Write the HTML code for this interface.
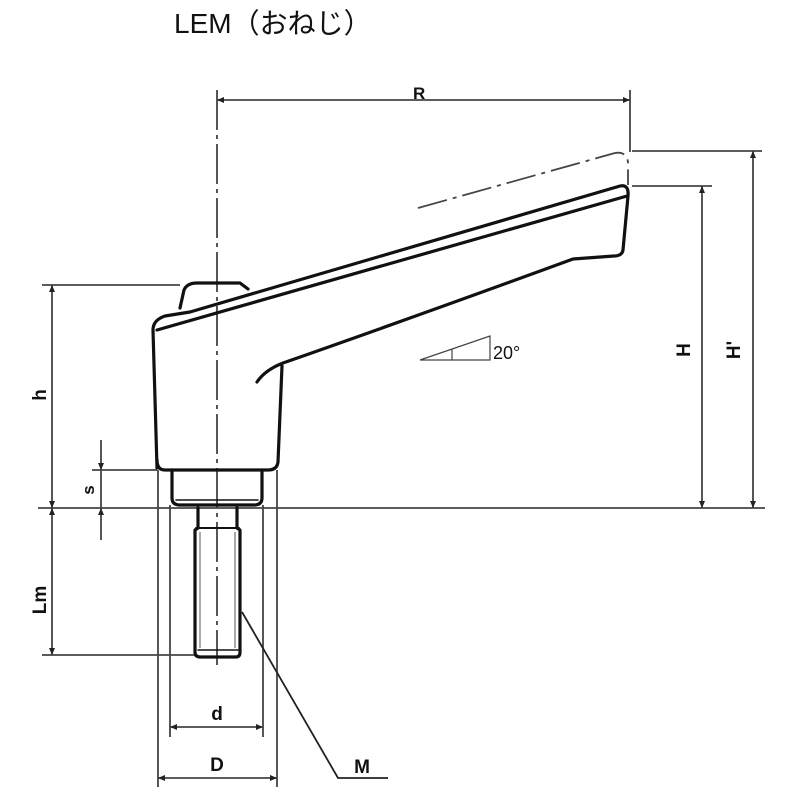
<!DOCTYPE html>
<html><head><meta charset="utf-8"><style>
html,body{margin:0;padding:0;background:#fff;width:800px;height:800px;overflow:hidden}
svg{display:block}
text{font-family:"Liberation Sans","Noto Sans CJK JP",sans-serif;font-weight:bold;fill:#111}
</style></head><body>
<svg width="800" height="800" viewBox="0 0 800 800" xmlns="http://www.w3.org/2000/svg">
<text x="174" y="33" font-size="28" style="font-weight:normal">LEM（おねじ）</text>
<g stroke="#444" stroke-width="1.8" fill="none">
<line x1="217" y1="90" x2="217" y2="665" stroke-dasharray="40,5,4,5"/>
<line x1="217" y1="100" x2="630" y2="100"/>
<line x1="630" y1="90" x2="630" y2="152"/>
<line x1="632" y1="151" x2="762" y2="151"/>
<line x1="632" y1="186" x2="712" y2="186"/>
<line x1="38" y1="508" x2="765" y2="508"/>
<line x1="702" y1="186" x2="702" y2="508"/>
<line x1="753" y1="151" x2="753" y2="508"/>
<line x1="42" y1="285" x2="180" y2="285"/>
<line x1="52" y1="285" x2="52" y2="655"/>
<line x1="42" y1="655" x2="195" y2="655"/>
<line x1="101" y1="440" x2="101" y2="540"/>
<line x1="92" y1="470" x2="157" y2="470"/>
<line x1="158" y1="470" x2="158" y2="787"/>
<line x1="277" y1="470" x2="277" y2="787"/>
<line x1="170" y1="505" x2="170" y2="737"/>
<line x1="263" y1="505" x2="263" y2="737"/>
<line x1="170" y1="727" x2="263" y2="727"/>
<line x1="158" y1="778" x2="277" y2="778"/>
<path d="M418,208 L615,153 Q626,151 628,162 L628,185" stroke-dasharray="30,6,4,6"/>
<polyline points="420,360 490,336 490,360 420,360" stroke-width="1.2"/>
<line x1="452" y1="349" x2="452" y2="360" stroke-width="1.2"/>
</g>
<g fill="#222">
<polygon points="217,100 224,97 224,103"/><polygon points="630,100 623,97 623,103"/>
<polygon points="702,186 699,193 705,193"/><polygon points="702,508 699,501 705,501"/>
<polygon points="753,151 750,158 756,158"/><polygon points="753,508 750,501 756,501"/>
<polygon points="52,285 49,292 55,292"/><polygon points="52,508 49,501 55,501"/>
<polygon points="52,508 49,515 55,515"/><polygon points="52,655 49,648 55,648"/>
<polygon points="101,470 98,463 104,463"/><polygon points="101,508 98,515 104,515"/>
<polygon points="170,727 177,724 177,730"/><polygon points="263,727 256,724 256,730"/>
<polygon points="158,778 165,775 165,781"/><polygon points="277,778 270,775 270,781"/>
</g>
<polyline points="242,612 338,778 388,778" stroke="#222" stroke-width="1.8" fill="none"/>
<g stroke="#111" stroke-width="3.2" fill="none" stroke-linejoin="round" stroke-linecap="round">
<path d="M157,468 L153,330 Q153,320 165,316 L190,312 Q400,250 620,186 Q629,184 628,196 L623,250 Q622,256 614,256 L573,259 Q420,315 283,363 Q265,370 257,382"/>
<path d="M157,330 Q400,260 627,196"/>
<path d="M282,366 L278,462 Q277,470 268,470 L165,470 Q157,470 157,460"/>
<path d="M180,308 L184,290 Q187,283 197,283 L240,283 L248,289"/>
<path d="M172,470 L172,498 Q172,505 180,505 L254,505 Q262,505 262,498 L262,470"/>
<line x1="176" y1="500" x2="258" y2="500" stroke-width="1.5"/>
<path d="M198,508 L198,528 L195,530 L195,652 Q195,657 200,657 L236,657 Q240,657 240,652 L240,530 L237,528 L237,508"/>
<line x1="196" y1="528" x2="239" y2="528" stroke-width="2"/>
<line x1="198" y1="650" x2="238" y2="650" stroke-width="1.5"/>
</g>
<g stroke="#555" stroke-width="1" fill="none">
<line x1="200" y1="532" x2="200" y2="648"/><line x1="235" y1="532" x2="235" y2="648"/>
</g>
<text x="413" y="99" font-size="17">R</text>
<text x="493" y="359" font-size="18" style="font-weight:normal">20°</text>
<text x="217" y="720" font-size="19" text-anchor="middle">d</text>
<text x="217" y="771" font-size="19" text-anchor="middle">D</text>
<text x="362" y="773" font-size="19" text-anchor="middle">M</text>
<text font-size="19" text-anchor="middle" transform="translate(46,395) rotate(-90)">h</text>
<text font-size="19" text-anchor="middle" transform="translate(46,600) rotate(-90)">Lm</text>
<text font-size="17" text-anchor="middle" transform="translate(94,490) rotate(-90)">s</text>
<text font-size="19" text-anchor="middle" transform="translate(690,350) rotate(-90)">H</text>
<text font-size="19" text-anchor="middle" transform="translate(740,350) rotate(-90)">H'</text>
</svg>
</body></html>
